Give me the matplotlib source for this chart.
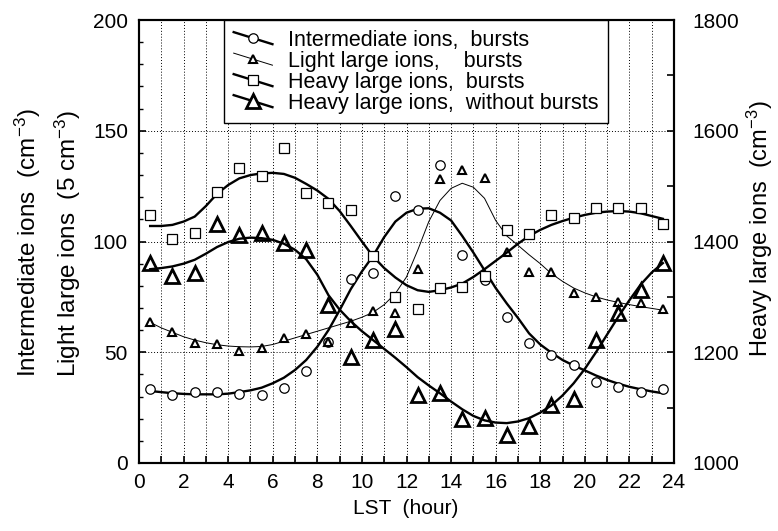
import matplotlib
matplotlib.use("Agg")
import matplotlib.pyplot as plt
from matplotlib.lines import Line2D
from matplotlib.legend_handler import HandlerBase
from matplotlib.ticker import MultipleLocator

plt.rcParams['font.family'] = ['Liberation Sans', 'DejaVu Sans']
plt.rcParams['mathtext.fontset'] = 'custom'
plt.rcParams['mathtext.rm'] = 'Liberation Sans'
plt.rcParams['mathtext.it'] = 'Liberation Sans:italic'
plt.rcParams['mathtext.bf'] = 'Liberation Sans:bold'

hours = [0.5, 1.5, 2.5, 3.5, 4.5, 5.5, 6.5, 7.5, 8.5, 9.5, 10.5, 11.5,
         12.5, 13.5, 14.5, 15.5, 16.5, 17.5, 18.5, 19.5, 20.5, 21.5, 22.5, 23.5]

# measured points
inter_pts = [33.5, 30.7, 32.0, 32.0, 31.0, 30.7, 33.9, 41.5, 54.6, 82.9, 85.6, 120.7,
             114.2, 134.5, 93.9, 82.6, 65.8, 54.0, 48.8, 44.2, 36.7, 34.2, 31.9, 33.3]
light_pts = [63.8, 59.3, 54.0, 53.6, 50.7, 51.8, 56.3, 58.1, 54.8, 63.3, 68.8, 67.9,
             87.4, 128.2, 132.3, 128.8, 95.4, 86.4, 86.4, 76.9, 74.8, 72.8, 72.1, 69.4]
heavy_pts = [1448, 1404, 1415, 1490, 1532, 1519, 1568, 1487, 1470, 1456, 1374, 1299,
             1278, 1316, 1318, 1338, 1420, 1413, 1448, 1442, 1460, 1460, 1460, 1432]
without_pts = [1361, 1337, 1344, 1431, 1412, 1416, 1398, 1385, 1285, 1191, 1222, 1242,
               1123, 1126, 1080, 1081, 1051, 1067, 1105, 1116, 1223, 1270, 1312, 1361]

# fitted curves, every half hour
fit_hours = [0.5, 1.0, 1.5, 2.0, 2.5, 3.0, 3.5, 4.0, 4.5, 5.0, 5.5, 6.0, 6.5, 7.0, 7.5, 8.0,
             8.5, 9.0, 9.5, 10.0, 10.5, 11.0, 11.5, 12.0, 12.5, 13.0, 13.5, 14.0, 14.5, 15.0,
             15.5, 16.0, 16.5, 17.0, 17.5, 18.0, 18.5, 19.0, 19.5, 20.0, 20.5, 21.0, 21.5,
             22.0, 22.5, 23.0, 23.5]
inter_fit = [32.5, 32, 31.5, 31.2, 31, 31, 31, 31.3, 32, 32.8, 34, 36, 38.5, 42, 46.5, 52.5,
             60, 69, 78.5, 86.5, 93.5, 102, 109, 113, 114.8, 115, 113, 109.5, 102.5, 95,
             87, 79, 72, 65.5, 58.5, 53.5, 49.8, 46.5, 44, 41.8, 39.5, 37.5, 35.8,
             34.4, 33.3, 32.3, 31.5]
light_fit = [63.5, 61, 59, 57, 55.5, 54.3, 53.4, 52.8, 52.5, 52.4, 52.6, 53.5, 55, 56.5, 58, 59.5,
             61, 62.5, 64, 65.8, 68, 71.5, 76.5, 84, 96, 109, 118.5, 124, 126.3, 124.5,
             119.5, 109.5, 102.5, 98.3, 94, 90, 85.5, 82, 79, 76.8, 75, 73.6, 72.5,
             71.5, 70.6, 69.8, 69]
heavy_fit = [1428, 1428, 1430, 1436, 1445, 1464, 1486, 1502, 1514, 1520, 1523, 1524, 1522, 1515,
             1504, 1492, 1477, 1455, 1428, 1400, 1373, 1352, 1335, 1321, 1312, 1309, 1312,
             1317, 1324, 1336, 1350, 1365, 1380, 1396, 1410, 1421, 1430, 1437, 1443, 1448,
             1452, 1454, 1455, 1454, 1451, 1446, 1441]
without_fit = [1350, 1352, 1355, 1360, 1367, 1378, 1390, 1399, 1405, 1407, 1406, 1403, 1396,
               1385, 1368, 1340, 1303, 1277, 1256, 1238, 1222, 1206, 1190, 1173, 1155, 1140,
               1126, 1111, 1097, 1085, 1077, 1073, 1072, 1075, 1081, 1091, 1104, 1122, 1144,
               1170, 1200, 1232, 1264, 1294, 1322, 1344, 1361]

labels = ["Intermediate ions,  bursts", "Light large ions,    bursts",
          "Heavy large ions,  bursts", "Heavy large ions,  without bursts"]

W, H = 778, 531
fig = plt.figure(figsize=(W/100, H/100), dpi=100)
L, R, T, B = 139, 674, 20, 463
ax = fig.add_axes([L/W, 1-B/H, (R-L)/W, (B-T)/H])
ax2 = ax.twinx()

thick = 1.7
thin = 0.7
st_inter = dict(marker='o', ms=6.8, mew=0.9)
st_light = dict(marker='^', ms=6.0, mew=1.5)
st_heavy = dict(marker='s', ms=6.8, mew=0.9)
st_without = dict(marker='^', ms=9.5, mew=2.0)

ax.plot(fit_hours, inter_fit, color='black', lw=thick, zorder=2)
ax.plot(fit_hours, light_fit, color='black', lw=thin, zorder=2)
ax.plot(hours, inter_pts, ls='none', mfc='white', mec='black', zorder=3, **st_inter)
ax.plot(hours, light_pts, ls='none', mfc='white', mec='black', zorder=3, **st_light)

ax2.plot(fit_hours, heavy_fit, color='black', lw=thick, zorder=2)
ax2.plot(fit_hours, without_fit, color='black', lw=thick, zorder=2)
ax2.plot(hours, heavy_pts, ls='none', mfc='white', mec='black', zorder=3, **st_heavy)
ax2.plot(hours, without_pts, ls='none', mfc='none', mec='black', zorder=3, **st_without)

ax.set_xlim(0, 24)
ax.set_ylim(0, 200)
ax2.set_ylim(1000, 1800)

ax.xaxis.set_major_locator(MultipleLocator(2))
ax.xaxis.set_minor_locator(MultipleLocator(1))
ax.yaxis.set_major_locator(MultipleLocator(50))
ax.yaxis.set_minor_locator(MultipleLocator(10))
ax2.yaxis.set_major_locator(MultipleLocator(200))
ax2.yaxis.set_minor_locator(MultipleLocator(100))

gkw = dict(color='black', lw=0.7, ls=(0, (1, 2)))
ax.grid(True, which='both', axis='x', **gkw)
ax.grid(True, which='major', axis='y', **gkw)
ax.set_axisbelow(True)

ax.tick_params(axis='both', which='both', direction='in', labelsize=15, top=False, right=False)
ax.tick_params(axis='x', which='both', length=5, width=1.2, pad=7)
ax.tick_params(axis='y', which='major', length=5, width=1.2, pad=8)
ax.tick_params(axis='y', which='minor', length=3, width=1.0)
ax2.tick_params(axis='y', which='both', direction='in', labelsize=15, length=5, width=1.2,
                pad=13)
for a in (ax, ax2):
    for s in a.spines.values():
        s.set_linewidth(1.5)

# axis labels
fig.text(406/W, 1-508/H, "LST  (hour)", ha='center', va='center', fontsize=15)
fig.text(28/W, 1-377/H, "Intermediate ions  (cm$^{-3}$)", rotation=90,
         ha='center', va='bottom', fontsize=17.5)
fig.text(68/W, 1-377/H, "Light large ions  (5 cm$^{-3}$)", rotation=90,
         ha='center', va='bottom', fontsize=17.5)
fig.text(760/W, 1-229/H, "Heavy large ions  (cm$^{-3}$)", rotation=90,
         ha='center', va='center', fontsize=17)


class SlantHandler(HandlerBase):
    def create_artists(self, legend, orig_handle, xdescent, ydescent, width, height,
                       fontsize, trans):
        x0 = -xdescent
        x1 = -xdescent + width
        yc = -ydescent + height / 2
        dy = height * 0.4
        line = Line2D([x0, x1], [yc + dy, yc - dy], color='black',
                      lw=orig_handle.get_linewidth())
        mk = Line2D([(x0 + x1) / 2], [yc], ls='none', marker=orig_handle.get_marker(),
                    ms=orig_handle.get_markersize(), mfc='white', mec='black',
                    mew=orig_handle.get_markeredgewidth())
        line.set_transform(trans)
        mk.set_transform(trans)
        return [line, mk]


handles = [Line2D([], [], color='black', lw=thick, **st_inter),
           Line2D([], [], color='black', lw=thin, **st_light),
           Line2D([], [], color='black', lw=thick, **st_heavy),
           Line2D([], [], color='black', lw=thick, **st_without)]
leg = ax2.legend(handles, labels, loc='upper left', bbox_to_anchor=(224/W, 1-20/H),
                 bbox_transform=fig.transFigure, fontsize=15.5, frameon=True,
                 fancybox=False, framealpha=1, edgecolor='black', borderpad=0.45,
                 labelspacing=0.0, handlelength=1.8, handletextpad=0.7,
                 borderaxespad=0, handler_map={Line2D: SlantHandler()})
leg.get_frame().set_linewidth(1.0)
leg.set_zorder(10)

fig.savefig("out.png", dpi=100)
